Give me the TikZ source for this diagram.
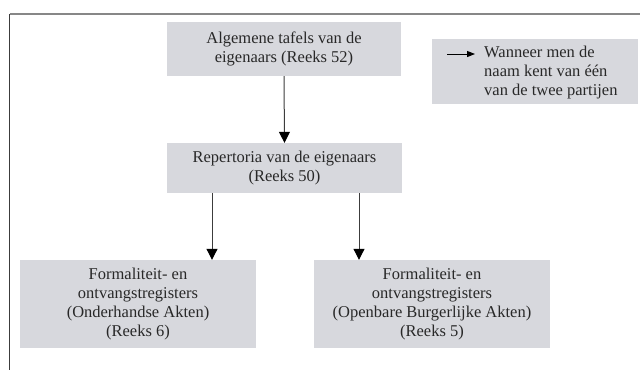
\documentclass[tikz,border=0pt]{standalone}
\usepackage{fontspec}
\setmainfont{Liberation Serif}
\usetikzlibrary{arrows.meta,calc}
\definecolor{boxgray}{RGB}{215,216,221}
\definecolor{txtgray}{RGB}{40,40,40}
\definecolor{framegray}{RGB}{135,135,135}
\definecolor{linegray}{RGB}{60,60,60}
\tikzset{
  box/.style={fill=boxgray, draw=none, align=center, inner sep=0pt,
    text=txtgray, font=\fontsize{16.5}{19}\selectfont},
  conn/.style={draw=linegray, line width=1pt, -{Triangle[width=11pt,length=11pt,fill=black,color=black]}},
  legconn/.style={draw=black, line width=1pt, -{Triangle[width=6pt,length=8pt,fill=black,color=black]}},
}
\begin{document}
\begin{tikzpicture}[x=1pt,y=-1pt]
\useasboundingbox (0,0) rectangle (640,370);
% frame
\coordinate (fTL) at (9.5,14);
\coordinate (fTR) at (640,14);
\coordinate (fBL) at (9.5,370);
\draw[framegray, line width=1.6pt] (fTL) -- (fTR);
\draw[linegray, line width=0.9pt] (fTL) -- (fBL);
% boxes
\node[box, minimum width=234pt, minimum height=54pt] (top) at (284,49)
  {Algemene tafels van de\\eigenaars (Reeks 52)};
\node[box, minimum width=235pt, minimum height=50pt] (mid) at (284.5,168)
  {Repertoria van de eigenaars\\(Reeks 50)};
\node[box, minimum width=236pt, minimum height=88pt] (bl) at (138,304)
  {Formaliteit- en\\ontvangstregisters\\(Onderhandse Akten)\\(Reeks 6)};
\node[box, minimum width=236pt, minimum height=88pt] (br) at (432,304)
  {Formaliteit- en\\ontvangstregisters\\(Openbare Burgerlijke Akten)\\(Reeks 5)};
% legend
\node[box, minimum width=206pt, minimum height=65pt] (leg) at (535,71.5) {};
\node[box, fill=none, align=left, anchor=west] (legtxt) at (484,72.5)
  {Wanneer men de\\naam kent van één\\van de twee partijen};
\coordinate (la) at (447,54);
\coordinate (lb) at (475,54);
\draw[legconn] (la) -- (lb);
% connectors
\draw[conn] (top.south) -- (mid.north);
\coordinate (x1) at (212,0);
\coordinate (x2) at (359,0);
\draw[conn] (mid.south -| x1) -- (bl.north -| x1);
\draw[conn] (mid.south -| x2) -- (br.north -| x2);
\end{tikzpicture}
\end{document}
